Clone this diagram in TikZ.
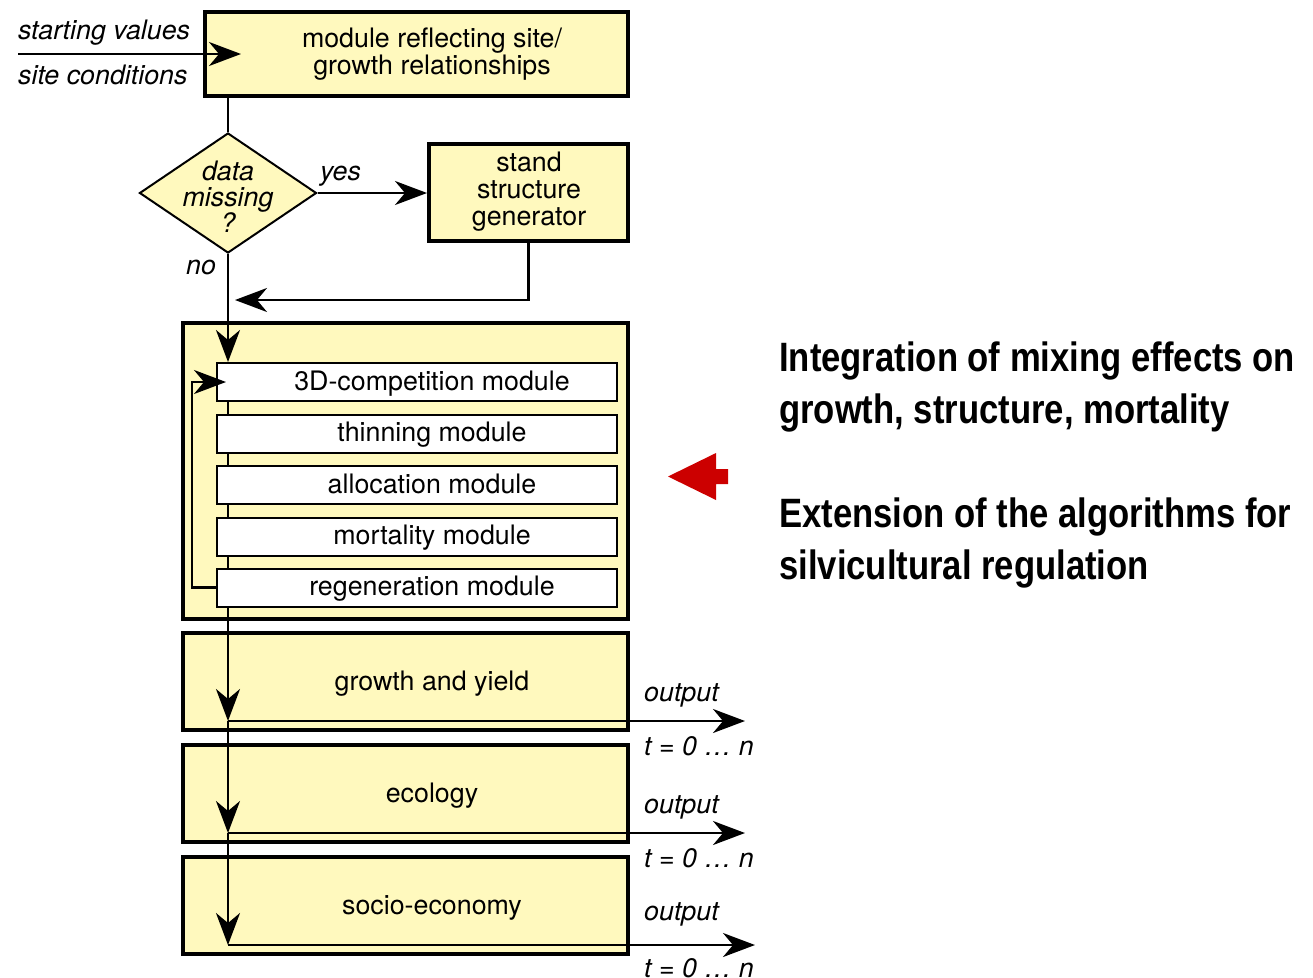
\documentclass[tikz,border=0pt]{standalone}
\usepackage{fontspec}
\setmainfont{TeX Gyre Heros}
\newfontfamily\headfont[FakeStretch=0.845]{Liberation Sans Bold}
\usepackage{xcolor}
\usepackage{tikz}
\usetikzlibrary{shapes.geometric,arrows.meta}
\definecolor{boxyellow}{RGB}{255,249,190}
\definecolor{markred}{RGB}{204,0,0}
\pgfdeclarelayer{front}
\pgfsetlayers{main,front}

\begin{document}
\begin{tikzpicture}[x=1pt, y=-1pt,
    txt/.style={inner sep=0pt, align=center, font=\fontsize{26.8}{27}\selectfont},
    ltxt/.style={txt, text height=19.5pt, text depth=5.5pt},
    itxt/.style={txt, font=\fontsize{26.8}{26}\selectfont\itshape},
    bigbox/.style={draw, line width=4pt, fill=boxyellow, inner sep=0pt},
    modbox/.style={draw, line width=2pt, fill=white, inner sep=0pt, minimum width=400pt, minimum height=38pt},
    link/.style={line width=2.5pt},
    arr/.style={link, -{Stealth[length=32pt, width=24pt, inset=10pt]}}]
            \useasboundingbox (0,0) rectangle (1313,977);

            % site module
            \node[bigbox, minimum width=423pt, minimum height=84pt] (site) at (416.5,54) {};
            \node[txt] (site-t) at (432,54) {module reflecting site/\\growth relationships};
            \coordinate (start) at (18,54);
            \node[itxt, anchor=west] (start-a) at (18,33) {starting values};
            \node[itxt, anchor=west] (start-b) at (18,75) {site conditions};
            \draw[arr] (start) -- ([xshift=38pt]site.west);

            % data missing?
            \node[diamond, draw, line width=2pt, fill=boxyellow, inner sep=0pt,
                minimum width=177pt, minimum height=120pt] (dm) at (228,193) {};
            \node[itxt] (dm-t) at (228,197) {data\\missing\\?};
            \draw[link] (site.south -| dm.north) -- (dm.north);

            % stand structure generator
            \node[bigbox, minimum width=199pt, minimum height=97pt] (stand) at (528.5,192.5) {};
            \node[txt] (stand-t) at (529,192) {stand\\structure\\generator};
            \draw[arr] (dm.east) -- (dm.east -| stand.west);
            \node[itxt, anchor=west] (yes) at (320,176) {yes};
            \node[itxt] (no) at (201,267) {no};
            \coordinate (merge) at (235,300);
            \draw[arr] (stand.south) |- (merge);

            % simulation box
            \node[bigbox, minimum width=445pt, minimum height=296pt] (sim) at (405.5,471) {};
            \begin{pgfonlayer}{front}
            \node[modbox] (comp) at (417,382) {};
            \node[ltxt] (comp-t) at (432,383) {3D-competition module};
            \node[modbox] (thin) at (417,433.5) {};
            \node[ltxt] (thin-t) at (432,434.5) {thinning module};
            \node[modbox] (alloc) at (417,485) {};
            \node[ltxt] (alloc-t) at (432,486) {allocation module};
            \node[modbox] (mort) at (417,536.5) {};
            \node[ltxt] (mort-t) at (432,537.5) {mortality module};
            \node[modbox] (regen) at (417,587.5) {};
            \node[ltxt] (regen-t) at (432,588.5) {regeneration module};
            \draw[arr] (regen.west) -- ++(-24,0) |- ([xshift=10pt]comp.west);
            \end{pgfonlayer}

            % result boxes
            \node[bigbox, minimum width=445pt, minimum height=97pt] (grow) at (405.5,681.5) {};
            \node[ltxt] (grow-t) at (432,683) {growth and yield};
            \node[bigbox, minimum width=445pt, minimum height=97pt] (eco) at (405.5,793.5) {};
            \node[ltxt] (eco-t) at (432,795) {ecology};
            \node[bigbox, minimum width=445pt, minimum height=97pt] (socio) at (405.5,905.5) {};
            \node[ltxt] (socio-t) at (432,907) {socio-economy};

            % main flow
            \coordinate (out1) at (228,721);
            \coordinate (out2) at (228,833);
            \coordinate (out3) at (228,945);
            \coordinate (end1) at (745,721);
            \coordinate (end2) at (745,833);
            \coordinate (end3) at (755,945);
            \draw[arr] (dm.south) -- (dm.south |- comp.north);
            \draw[arr] (dm.south |- comp.north) -- (out1);
            \draw[arr] (out1) -- (out2);
            \draw[arr] (out2) -- (out3);
            \draw[arr] (out1) -- (end1);
            \draw[arr] (out2) -- (end2);
            \draw[arr] (out3) -- (end3);

            % outputs
            \node[itxt, anchor=west] (o1-a) at (644,695) {output};
            \node[itxt, anchor=west] (o1-b) at (644,746) {t = 0 … n};
            \node[itxt, anchor=west] (o2-a) at (644,807) {output};
            \node[itxt, anchor=west] (o2-b) at (644,858) {t = 0 … n};
            \node[itxt, anchor=west] (o3-a) at (644,914) {output};
            \node[itxt, anchor=west] (o3-b) at (644,968) {t = 0 … n};

            % red marker and notes
            \fill[markred] (668,476.5) -- (716,453) -- (716,469) -- (728,469) -- (728,484)
                -- (716,484) -- (716,500) -- cycle;
            \node[anchor=north west, inner sep=0pt, align=left,
                font=\headfont\fontsize{41}{52}\selectfont] (notes) at (779,342)
                {Integration of mixing effects on\\growth, structure, mortality\\[52pt]Extension of the algorithms for\\silvicultural regulation};
        \end{tikzpicture}
\end{document}
